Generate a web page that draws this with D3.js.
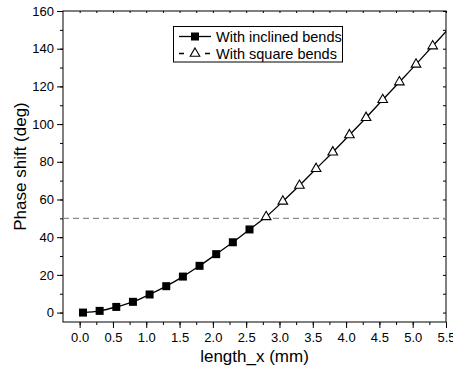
<!DOCTYPE html>
<html>
<head>
<meta charset="utf-8">
<script src="https://cdn.jsdelivr.net/npm/d3@7"></script>
<style>
  body { margin: 0; background: #fff; }
  svg { font-family: "Liberation Sans", Arial, sans-serif; }
</style>
</head>
<body>
<svg id="id_svg"></svg>
<script>
width = 453
height = 368
margin = { top: 11, right: 7, bottom: 46, left: 63 }

inclinedX = [0.05, 0.3, 0.55, 0.8, 1.05, 1.3, 1.55, 1.8, 2.05, 2.3, 2.55]
inclinedY = [0.0, 0.9, 3.0, 5.7, 9.6, 14.0, 19.1, 24.8, 31.0, 37.3, 44.1]
squareX = [2.8, 3.05, 3.3, 3.55, 3.8, 4.05, 4.3, 4.55, 4.8, 5.05, 5.3]
squareY = [50.8, 59.0, 67.4, 76.3, 85.1, 94.2, 103.4, 112.9, 122.3, 131.7, 141.4]
// the curve carries on past the last marker to the frame
tailX = [5.55]
tailY = [151.0]
refLevel = 50
xTicks = [0, 0.5, 1, 1.5, 2, 2.5, 3, 3.5, 4, 4.5, 5, 5.5]
yTicks = [0, 20, 40, 60, 80, 100, 120, 140, 160]
legendLabels = ["With inclined bends", "With square bends"]

chart = function() {
    const svg = d3.select("#id_svg").attr("width", width).attr("height", height);

    const x = d3.scaleLinear().domain([-0.25, 5.5]).range([margin.left, width - margin.right]);
    const y = d3.scaleLinear().domain([-5, 160]).range([height - margin.bottom, margin.top]);

    const x0 = margin.left, x1 = width - margin.right;
    const y0 = height - margin.bottom, y1 = margin.top;

    const fmt = d3.format(".1f");
    const xMinor = d3.range(0, 5.51, 0.25);
    const yMinor = d3.range(0, 160.1, 10);

    // bottom axis, ticks outward
    svg.append("g")
        .attr("transform", `translate(0,${y0})`)
        .call(d3.axisBottom(x).tickValues(xMinor).tickSize(3).tickFormat(""))
        .call(g => g.select(".domain").remove());
    svg.append("g")
        .attr("transform", `translate(0,${y0})`)
        .call(d3.axisBottom(x).tickValues(xTicks).tickSize(6).tickPadding(5).tickFormat(fmt))
        .call(g => g.select(".domain").remove())
        .call(g => g.selectAll("text").attr("font-size", 13).attr("fill", "#000"));

    // left axis, ticks outward
    svg.append("g")
        .attr("transform", `translate(${x0},0)`)
        .call(d3.axisLeft(y).tickValues(yMinor).tickSize(3).tickFormat(""))
        .call(g => g.select(".domain").remove());
    svg.append("g")
        .attr("transform", `translate(${x0},0)`)
        .call(d3.axisLeft(y).tickValues(yTicks).tickSize(6).tickPadding(3))
        .call(g => g.select(".domain").remove())
        .call(g => g.selectAll("text").attr("font-size", 13).attr("fill", "#000"));

    // top and right mirrors, ticks inward
    svg.append("g")
        .attr("transform", `translate(0,${y1})`)
        .call(d3.axisBottom(x).tickValues(xMinor).tickSize(2).tickFormat(""))
        .call(g => g.select(".domain").remove());
    svg.append("g")
        .attr("transform", `translate(${x1},0)`)
        .call(d3.axisLeft(y).tickValues(yMinor).tickSize(3).tickFormat(""))
        .call(g => g.select(".domain").remove());

    // frame
    svg.append("rect")
        .attr("x", x0).attr("y", y1)
        .attr("width", x1 - x0).attr("height", y0 - y1)
        .attr("fill", "none").attr("stroke", "#000").attr("stroke-width", 1);

    svg.append("clipPath").attr("id", "clip")
        .append("rect").attr("x", x0).attr("y", y1).attr("width", x1 - x0).attr("height", y0 - y1);

    // 50 deg reference
    svg.append("line")
        .attr("x1", x0).attr("x2", x1)
        .attr("y1", y(refLevel)).attr("y2", y(refLevel))
        .attr("stroke", "#8c8c8c").attr("stroke-width", 1.2)
        .attr("stroke-dasharray", "6,4");

    const inclined = inclinedX.map((v, i) => [v, inclinedY[i]]);
    const square = squareX.map((v, i) => [v, squareY[i]]);
    const tail = tailX.map((v, i) => [v, tailY[i]]);
    const all = inclined.concat(square, tail);

    const line = d3.line().x(d => x(d[0])).y(d => y(d[1])).curve(d3.curveCatmullRom);

    svg.append("path")
        .attr("clip-path", "url(#clip)")
        .attr("d", line(all))
        .attr("fill", "none").attr("stroke", "#000").attr("stroke-width", 1.3);

    const sq = 8;
    svg.append("g").selectAll("rect")
        .data(inclined)
        .join("rect")
        .attr("x", d => x(d[0]) - sq / 2).attr("y", d => y(d[1]) - sq / 2)
        .attr("width", sq).attr("height", sq)
        .attr("fill", "#000");

    const tri = d3.symbol().type(d3.symbolTriangle).size(40);
    svg.append("g").selectAll("path")
        .data(square)
        .join("path")
        .attr("transform", d => `translate(${x(d[0])},${y(d[1])})`)
        .attr("d", tri)
        .attr("fill", "#fff").attr("stroke", "#000").attr("stroke-width", 1.1);

    // legend
    const lg = svg.append("g");
    lg.append("rect")
        .attr("x", 173.5).attr("y", 26.5).attr("width", 169).attr("height", 35.5)
        .attr("fill", "#fff").attr("stroke", "#000").attr("stroke-width", 1);
    const rowY = [36.5, 53.5];
    lg.append("line").attr("x1", 179).attr("x2", 211).attr("y1", rowY[0]).attr("y2", rowY[0])
        .attr("stroke", "#000").attr("stroke-width", 1.3);
    lg.append("rect").attr("x", 195 - sq / 2).attr("y", rowY[0] - sq / 2)
        .attr("width", sq).attr("height", sq).attr("fill", "#000");
    lg.append("line").attr("x1", 179).attr("x2", 211).attr("y1", rowY[1]).attr("y2", rowY[1])
        .attr("stroke", "#000").attr("stroke-width", 1.3).attr("stroke-dasharray", "5,21");
    lg.append("path").attr("transform", `translate(195,${rowY[1]})`)
        .attr("d", tri).attr("fill", "#fff").attr("stroke", "#000").attr("stroke-width", 1.1);
    lg.selectAll("text")
        .data(legendLabels)
        .join("text")
        .attr("x", 216).attr("y", (d, i) => rowY[i] + 5)
        .attr("font-size", 14.5)
        .text(d => d);

    // axis titles
    svg.append("text")
        .attr("x", (x0 + x1) / 2).attr("y", 362)
        .attr("text-anchor", "middle").attr("font-size", 17)
        .text("length_x (mm)");
    svg.append("text")
        .attr("transform", `translate(26,${(y0 + y1) / 2}) rotate(-90)`)
        .attr("text-anchor", "middle").attr("font-size", 17)
        .text("Phase shift (deg)");

    return svg.node();
}
chart()
</script>
</body>
</html>
